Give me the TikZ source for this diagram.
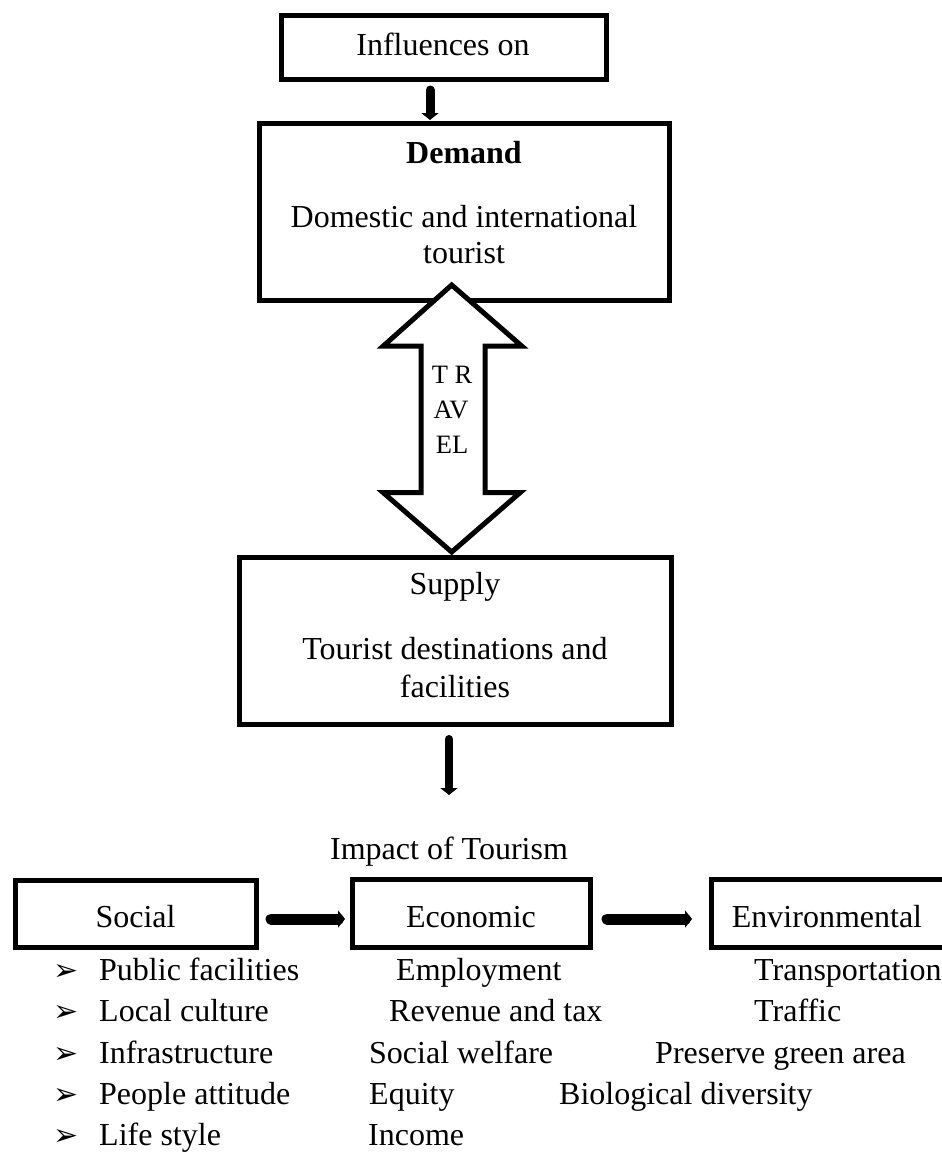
\documentclass[tikz,border=0pt]{standalone}
\usepackage{fontspec}
\setmainfont{Liberation Serif}
\newfontfamily\symfont{DejaVu Sans}
\usetikzlibrary{arrows.meta}
\begin{document}
\begin{tikzpicture}[x=1pt,y=-1pt,
  box/.style={draw, line width=5pt, inner sep=0pt, outer sep=0pt},
  txt/.style={inner sep=0pt, anchor=base, font=\fontsize{32}{38}\selectfont},
  ltxt/.style={inner sep=0pt, anchor=base west, font=\fontsize{32}{38}\selectfont},
  ttxt/.style={inner sep=0pt, anchor=base, font=\fontsize{26.5}{30}\selectfont},
  bul/.style={inner sep=0pt, anchor=base west, font=\fontsize{30}{34}\symfont},
  conn/.style={line width=#1, line cap=round, -{Triangle[length=7pt,width=17pt]}},
  conn/.default=9pt
]
\useasboundingbox (0,0) rectangle (942,1154);

% boxes
\node[box, minimum width=325pt, minimum height=64pt] (infl) at (443.5,47) {};
\node[box, minimum width=410pt, minimum height=177pt] (demand) at (464,211.5) {};
\node[box, minimum width=432pt, minimum height=167pt] (supply) at (455,640.5) {};
\node[box, minimum width=241pt, minimum height=67pt] (social) at (135.5,913.5) {};
\node[box, minimum width=238pt, minimum height=68pt] (econ) at (471,913) {};
\node[box, minimum width=235pt, minimum height=68pt] (env) at (828.5,913) {};

% texts in boxes
\node[txt] (inflT) at (443,55) {Influences on};
\node[txt] (demT) at (464,163) {\bfseries Demand};
\node[txt] (demT2) at (464,227) {Domestic and international};
\node[txt] (demT3) at (464,263) {tourist};
\node[txt] (supT) at (455,594) {Supply};
\node[txt] (supT2) at (455,659) {Tourist destinations and};
\node[txt] (supT3) at (455,697) {facilities};
\node[txt] (impT) at (449,859) {Impact of Tourism};
\node[txt] (socT) at (135.5,927) {Social};
\node[txt] (ecoT) at (471,927) {Economic};
\node[txt] (envT) at (827,927) {Environmental};

% connectors
\coordinate (c1) at (430,0);
\draw[conn=9pt] ([yshift=-11pt]infl.south -| c1) -- ([yshift=3pt]demand.north -| c1);
\coordinate (c2) at (449,0);
\draw[conn=8pt] ([yshift=-15pt]supply.south -| c2) -- ([yshift=-71pt]supply.south -| c2);
\coordinate (h) at (0,919);
\draw[conn=11pt] ([xshift=15pt]social.east |- h) -- ([xshift=-7pt]econ.west |- h);
\draw[conn=11pt] ([xshift=17pt]econ.east |- h) -- ([xshift=-19pt]env.west |- h);

% double arrow TRAVEL
\draw[line width=5pt, fill=white, line join=miter]
  (451.7,285) -- (521.7,346) -- (485,346) -- (485,492.7) -- (520,492.7)
  -- (451.7,552) -- (383.3,492.7) -- (421,492.7) -- (421,346) -- (383.3,346) -- cycle;
\node[ttxt] (tr1) at (452,383) {T R};
\node[ttxt] (tr2) at (451,418) {AV};
\node[ttxt] (tr3) at (452,453) {EL};

% lists
\foreach \yy/\n/\t in {980/1/Public facilities,1021/2/Local culture,1063/3/Infrastructure,1104/4/People attitude,1145/5/Life style}{
  \node[bul] (bu\n) at (53,\yy) {➢};
  \node[ltxt] (s\n) at (99,\yy) {\t};
}
\node[ltxt] (e1) at (396,980) {Employment};
\node[ltxt] (e2) at (389,1021) {Revenue and tax};
\node[ltxt] (e3) at (369,1063) {Social welfare};
\node[ltxt] (e4) at (369,1104) {Equity};
\node[ltxt] (e5) at (368,1145) {Income};
\node[ltxt] (v1) at (754,980) {Transportation};
\node[ltxt] (v2) at (754,1021) {Traffic};
\node[ltxt] (v3) at (655,1063) {Preserve green area};
\node[ltxt] (v4) at (559,1104) {Biological diversity};
\end{tikzpicture}
\end{document}
